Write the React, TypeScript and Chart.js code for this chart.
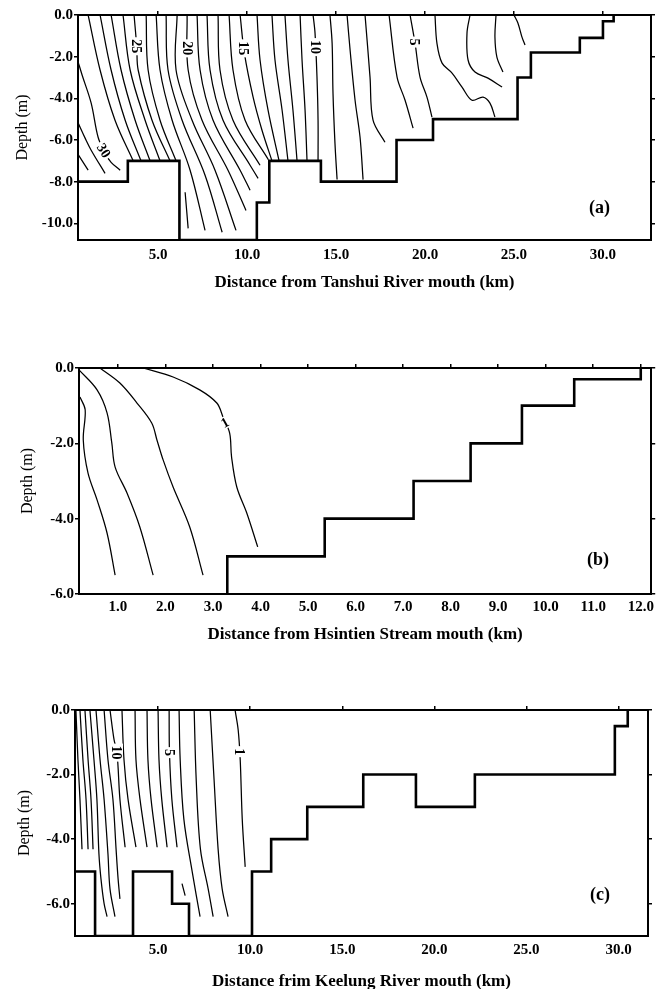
import React, { useEffect, useRef } from "react";
import { Chart, registerables } from "chart.js";
Chart.register(...registerables);

type Pair = [number, number];
type Label = { text: string; x: number; y: number; rot: number };

// ---------- Panel (a) Tanshui River ----------
const tanshuiXTicks = [5, 10, 15, 20, 25, 30];
const tanshuiYTicks = [0, -2, -4, -6, -8, -10];
const tanshuiBedX = [0.5, 3.3, 3.3, 6.2, 6.2, 10.55, 10.55, 11.25, 11.25, 14.15, 14.15, 18.4, 18.4, 20.45, 20.45, 25.2, 25.2, 25.95, 25.95, 28.7, 28.7, 30.0, 30.0, 30.6, 30.6];
const tanshuiBedY = [-8, -8, -7, -7, -10.8, -10.8, -9, -9, -7, -7, -8, -8, -6, -6, -5, -5, -3, -3, -1.8, -1.8, -1.1, -1.1, -0.3, -0.3, 0];
const tanshuiContours: Pair[][] = [
  [[0.51, -6.7], [1.07, -7.45]],
  [[0.51, -5.19], [0.9, -5.91], [1.24, -6.49], [2.02, -7.6]],
  [[0.51, -2.26], [0.73, -2.88], [1.24, -4.23], [1.63, -5.87], [2.02, -6.63], [2.36, -7.07], [2.87, -7.45]],
  [[1.07, 0], [1.74, -2.64], [2.58, -5.05], [3.6, -7.0]],
  [[1.74, 0], [2.36, -2.64], [3.15, -5.05], [4.04, -7.0]],
  [[2.36, 0], [2.92, -2.64], [3.71, -5.05], [4.55, -7.0]],
  [[3.03, 0], [3.43, -2.64], [4.27, -5.05], [5.11, -7.0]],
  [[3.65, 0], [3.8, -1.5], [3.88, -2.64], [4.66, -5.05], [5.67, -7.0]],
  [[4.33, 0], [4.44, -2.64], [5.11, -5.05], [6.01, -7.0]],
  [[4.89, 0], [5.11, -2.64], [5.79, -5.05], [6.8, -7.45], [7.64, -10.34]],
  [[5.45, 0], [5.56, -2.64], [6.35, -5.05], [7.64, -7.69], [8.6, -10.43]],
  [[6.07, 0], [6.01, -2.64], [6.91, -5.05], [8.2, -7.45], [9.38, -10.34]],
  [[6.63, 0], [6.69, -2.64], [7.47, -5.05], [8.93, -7.45], [9.94, -9.38]],
  [[7.19, 0], [7.36, -2.64], [8.09, -5.05], [9.61, -7.45], [10.17, -8.41]],
  [[7.75, 0], [7.92, -2.64], [8.65, -5.05], [10.17, -7.21], [10.62, -7.84]],
  [[8.37, 0], [8.48, -2.64], [9.21, -5.05], [10.73, -7.21]],
  [[8.99, 0], [9.21, -2.64], [9.89, -5.05], [11.2, -6.95]],
  [[9.61, 0], [9.85, -1.83], [10.34, -3.94], [10.84, -5.53], [11.4, -7.0]],
  [[10.56, 0], [10.73, -2.16], [11.18, -4.57], [11.8, -7.0]],
  [[11.4, 0], [11.57, -2.16], [11.97, -4.57], [12.3, -7.0]],
  [[12.13, 0], [12.3, -2.16], [12.58, -4.57], [12.81, -7.0]],
  [[12.98, 0], [13.09, -2.16], [13.26, -4.57], [13.37, -7.0]],
  [[13.71, 0], [13.82, -0.87], [13.93, -2.98], [13.99, -5.05], [13.99, -7.0]],
  [[14.66, 0], [14.78, -1.35], [14.83, -3.75], [14.94, -6.15], [15.06, -7.9]],
  [[15.62, 0], [15.79, -1.68], [16.07, -4.09], [16.35, -5.87], [16.52, -7.9]],
  [[16.63, 0], [16.91, -2.98], [17.08, -5.05], [17.75, -6.11]],
  [[17.98, 0], [18.43, -2.98], [18.88, -4.09], [19.33, -5.43]],
  [[19.16, 0], [19.44, -1.35], [19.72, -2.98], [20.11, -3.94], [20.39, -4.9]],
  [[20.56, 0], [20.67, -1.35], [20.96, -2.31], [21.52, -2.79], [22.08, -3.46], [22.64, -4.09], [23.26, -3.94], [23.65, -4.23], [23.93, -4.9]],
  [[22.53, 0], [22.36, -0.87], [22.42, -2.16], [22.81, -2.74], [23.54, -3.03], [24.33, -3.46]],
  [[23.99, 0], [23.93, -1.06], [24.04, -2.02], [24.38, -2.74]],
  [[25.0, 0], [25.22, -0.38], [25.45, -1.06], [25.62, -1.44]],
  [[6.52, -8.51], [6.69, -10.24]],
];
const tanshuiLabels: Label[] = [
  { text: "30", x: 1.95, y: -6.5, rot: 1.0 },
  { text: "25", x: 3.78, y: -1.5, rot: Math.PI / 2 },
  { text: "20", x: 6.66, y: -1.6, rot: Math.PI / 2 },
  { text: "15", x: 9.82, y: -1.6, rot: Math.PI / 2 },
  { text: "10", x: 13.87, y: -1.54, rot: Math.PI / 2 },
  { text: "5", x: 19.42, y: -1.3, rot: Math.PI / 2 },
];

// ---------- Panel (b) Hsintien Stream ----------
const hsintienXTicks = [1, 2, 3, 4, 5, 6, 7, 8, 9, 10, 11, 12];
const hsintienYTicks = [0, -2, -4, -6];
const hsintienBedX = [3.3, 3.3, 5.35, 5.35, 7.22, 7.22, 8.42, 8.42, 9.5, 9.5, 10.6, 10.6, 12.0, 12.0];
const hsintienBedY = [-6, -5, -5, -4, -4, -3, -3, -2, -2, -1, -1, -0.3, -0.3, 0];
const hsintienContours: Pair[][] = [
  [[1.53, 0], [2.16, -0.24], [2.72, -0.58], [3.08, -0.93], [3.21, -1.3], [3.35, -1.73], [3.39, -2.36], [3.5, -3.16], [3.71, -3.85], [3.94, -4.75]],
  [[0.62, 0], [1.04, -0.4], [1.4, -0.93], [1.71, -1.46], [1.82, -1.91], [1.95, -2.44], [2.16, -3.16], [2.51, -4.22], [2.79, -5.5]],
  [[0.18, -0.05], [0.56, -0.58], [0.77, -1.19], [0.87, -1.99], [0.94, -2.63], [1.19, -3.32], [1.46, -4.22], [1.74, -5.5]],
  [[0.2, -0.77], [0.31, -1.11], [0.27, -1.91], [0.37, -2.79], [0.56, -3.5], [0.77, -4.38], [0.94, -5.5]],
];
const hsintienLabels: Label[] = [{ text: "1", x: 3.25, y: -1.45, rot: -0.5 }];

// ---------- Panel (c) Keelung River ----------
const keelungXTicks = [5, 10, 15, 20, 25, 30];
const keelungYTicks = [0, -2, -4, -6];
const keelungBedX = [0.49, 1.58, 1.58, 3.64, 3.64, 5.76, 5.76, 6.68, 6.68, 10.1, 10.1, 11.14, 11.14, 13.1, 13.1, 16.14, 16.14, 19.0, 19.0, 22.2, 22.2, 29.8, 29.8, 30.5, 30.5];
const keelungBedY = [-5, -5, -7, -7, -5, -5, -6, -6, -7, -7, -5, -5, -4, -4, -3, -3, -2, -2, -3, -3, -2, -2, -0.5, -0.5, 0];
const keelungContours: Pair[][] = [
  [[0.54, 0], [0.65, -1.54], [0.76, -2.77], [0.87, -4.31]],
  [[0.76, 0], [0.92, -1.54], [1.09, -2.77], [1.2, -4.31]],
  [[1.03, 0], [1.2, -1.54], [1.36, -2.77], [1.47, -4.31]],
  [[1.3, 0], [1.52, -1.54], [1.68, -2.77], [1.79, -4.46], [1.9, -5.23], [2.07, -6.0], [2.23, -6.4]],
  [[1.63, 0], [1.85, -1.54], [2.07, -2.77], [2.28, -4.46], [2.39, -5.54], [2.66, -6.4]],
  [[2.07, 0], [2.28, -1.54], [2.55, -2.77], [2.72, -4.31], [2.83, -5.23], [2.93, -5.85]],
  [[2.39, 0], [2.61, -0.92], [2.77, -1.32], [2.93, -2.77], [3.21, -4.25]],
  [[3.04, 0], [3.15, -1.54], [3.37, -2.77], [3.8, -4.25]],
  [[3.75, 0], [3.8, -1.54], [4.02, -2.77], [4.4, -4.25]],
  [[4.4, 0], [4.45, -1.54], [4.62, -2.77], [4.95, -4.25]],
  [[5.0, 0], [5.05, -1.54], [5.2, -2.77], [5.49, -4.25]],
  [[5.6, 0], [5.62, -1.32], [5.75, -2.77], [6.03, -4.25]],
  [[6.14, 0], [6.2, -1.54], [6.4, -3.38], [6.85, -5.0], [7.28, -6.4]],
  [[6.96, 0], [7.07, -2.15], [7.3, -4.31], [7.72, -5.54], [7.99, -6.4]],
  [[7.83, 0], [8.04, -2.15], [8.26, -4.31], [8.48, -5.54], [8.8, -6.4]],
  [[9.18, 0], [9.35, -0.62], [9.46, -1.54], [9.57, -3.38], [9.73, -4.86]],
  [[6.3, -5.38], [6.47, -5.75]],
];
const keelungLabels: Label[] = [
  { text: "10", x: 2.77, y: -1.32, rot: Math.PI / 2 },
  { text: "5", x: 5.62, y: -1.32, rot: Math.PI / 2 },
  { text: "1", x: 9.42, y: -1.29, rot: Math.PI / 2 },
];

const SERIF = "'Liberation Serif', 'Times New Roman', serif";

interface Spec {
  top: number; height: number;
  left: number; right: number; areaTop: number; areaBottom: number;
  xMin: number; xMax: number; yMin: number; yMax: number;
  xTicks: number[]; yTicks: number[];
  xTitle: string; xAxisH: number; xTitlePad: number; xTickPad: number; yTitlePad: number;
  bedX: number[]; bedY: number[]; contours: Pair[][]; labels: Label[];
  tag: string; tagX: number; tagY: number;
}

const specs: Spec[] = [
  {
    top: 0, height: 305, left: 78, right: 651, areaTop: 15, areaBottom: 240,
    xMin: 0.5, xMax: 32.7, yMin: -10.8, yMax: 0,
    xTicks: tanshuiXTicks, yTicks: tanshuiYTicks,
    xTitle: "Distance from Tanshui River mouth (km)", xAxisH: 60, xTitlePad: 7, xTickPad: 6, yTitlePad: 13,
    bedX: tanshuiBedX, bedY: tanshuiBedY, contours: tanshuiContours, labels: tanshuiLabels,
    tag: "(a)", tagX: 29.8, tagY: -9.3,
  },
  {
    top: 320, height: 330, left: 79, right: 652, areaTop: 48, areaBottom: 274,
    xMin: 0.18, xMax: 12.22, yMin: -6, yMax: 0,
    xTicks: hsintienXTicks, yTicks: hsintienYTicks,
    xTitle: "Distance from Hsintien Stream mouth (km)", xAxisH: 56, xTitlePad: 5, xTickPad: 4, yTitlePad: 18,
    bedX: hsintienBedX, bedY: hsintienBedY, contours: hsintienContours, labels: hsintienLabels,
    tag: "(b)", tagX: 11.1, tagY: -5.1,
  },
  {
    top: 660, height: 340, left: 75, right: 648, areaTop: 50, areaBottom: 276,
    xMin: 0.49, xMax: 31.6, yMin: -7, yMax: 0,
    xTicks: keelungXTicks, yTicks: keelungYTicks,
    xTitle: "Distance frim Keelung River mouth (km)", xAxisH: 60, xTitlePad: 4, xTickPad: 5, yTitlePad: 15,
    bedX: keelungBedX, bedY: keelungBedY, contours: keelungContours, labels: keelungLabels,
    tag: "(c)", tagX: 29.0, tagY: -5.75,
  },
];

function makeConfig(s: Spec): any {
  const fix = (vals: number[]) => (scale: any) => {
    scale.ticks = vals.map((v) => ({ value: v }));
  };
  const fmt = (v: any) => Number(v).toFixed(1);
  const bed = s.bedX.map((x, i) => ({ x, y: s.bedY[i] }));
  const datasets: any[] = s.contours.map((c) => ({
    data: c.map(([x, y]) => ({ x, y })),
    showLine: true,
    borderColor: "#000",
    borderWidth: 1.25,
    pointRadius: 0,
    tension: 0.35,
    fill: false,
  }));
  datasets.push({
    data: bed,
    showLine: true,
    borderColor: "#000",
    borderWidth: 2.6,
    pointRadius: 0,
    tension: 0,
    fill: false,
    borderJoinStyle: "miter",
  });
  const annot = {
    id: "annot",
    afterDatasetsDraw(chart: any) {
      const { ctx } = chart;
      const xs = chart.scales.x;
      const ys = chart.scales.y;
      ctx.save();
      for (const l of s.labels) {
        const px = xs.getPixelForValue(l.x);
        const py = ys.getPixelForValue(l.y);
        ctx.save();
        ctx.translate(px, py);
        ctx.rotate(l.rot);
        ctx.font = `bold 14px ${SERIF}`;
        const w = ctx.measureText(l.text).width;
        ctx.fillStyle = "#fff";
        ctx.fillRect(-w / 2 - 2, -6, w + 4, 12);
        ctx.fillStyle = "#000";
        ctx.textAlign = "center";
        ctx.textBaseline = "middle";
        ctx.fillText(l.text, 0, 1);
        ctx.restore();
      }
      ctx.font = `bold 18px ${SERIF}`;
      ctx.fillStyle = "#000";
      ctx.textAlign = "center";
      ctx.textBaseline = "middle";
      ctx.fillText(s.tag, xs.getPixelForValue(s.tagX), ys.getPixelForValue(s.tagY));
      ctx.restore();
    },
  };
  const tickFont = { family: SERIF, size: 15, weight: "bold" };
  const border = { display: true, color: "#000", width: 2 };
  return {
    type: "scatter",
    data: { datasets },
    plugins: [annot],
    options: {
      responsive: false,
      animation: false,
      events: [],
      layout: { padding: { left: 0, right: 0, top: s.areaTop, bottom: s.height - s.areaBottom - s.xAxisH } },
      plugins: { legend: { display: false }, tooltip: { enabled: false } },
      scales: {
        x: {
          type: "linear", position: "bottom", min: s.xMin, max: s.xMax,
          afterBuildTicks: fix(s.xTicks),
          afterFit: (sc: any) => { sc.height = s.xAxisH; },
          grid: { display: false, drawTicks: false },
          border,
          ticks: { color: "#000", font: tickFont, padding: s.xTickPad, callback: fmt, maxRotation: 0, autoSkip: false },
          title: { display: true, text: s.xTitle, color: "#000", font: { family: SERIF, size: 17, weight: "bold" }, padding: { top: 0, bottom: s.xTitlePad } },
        },
        x2: {
          type: "linear", position: "top", min: s.xMin, max: s.xMax,
          afterBuildTicks: fix(s.xTicks),
          afterFit: (sc: any) => { sc.height = 0; },
          grid: { display: true, drawOnChartArea: false, drawTicks: true, tickLength: 4, color: "#000", lineWidth: 1.5 },
          border,
          ticks: { display: false },
        },
        y: {
          type: "linear", position: "left", min: s.yMin, max: s.yMax,
          afterBuildTicks: fix(s.yTicks),
          afterFit: (sc: any) => { sc.width = s.left; },
          grid: { display: true, drawOnChartArea: false, drawTicks: true, tickLength: 4, color: "#000", lineWidth: 1.5 },
          border,
          ticks: { color: "#000", font: tickFont, padding: 1, callback: fmt, autoSkip: false },
          title: { display: true, text: "Depth (m)", color: "#000", font: { family: SERIF, size: 16, weight: "normal" }, padding: { top: s.yTitlePad, bottom: 0 } },
        },
        y2: {
          type: "linear", position: "right", min: s.yMin, max: s.yMax,
          afterBuildTicks: fix(s.yTicks),
          afterFit: (sc: any) => { sc.width = 658 - s.right; },
          grid: { display: true, drawOnChartArea: false, drawTicks: true, tickLength: 4, color: "#000", lineWidth: 1.5 },
          border,
          ticks: { display: false },
        },
      },
    },
  };
}

function Panel({ spec }: { spec: Spec }) {
  const ref = useRef<HTMLCanvasElement>(null);
  useEffect(() => {
    if (!ref.current) return;
    const chart = new Chart(ref.current, makeConfig(spec));
    return () => chart.destroy();
  }, [spec]);
  return (
    <canvas
      ref={ref}
      width={658}
      height={spec.height}
      style={{ position: "absolute", left: 0, top: spec.top, width: 658, height: spec.height }}
    />
  );
}

export default function App() {
  return (
    <div style={{ position: "fixed", left: 0, top: 0, width: 658, height: 989, overflow: "hidden", background: "#fff" }}>
      {specs.map((s) => (
        <Panel key={s.tag} spec={s} />
      ))}
    </div>
  );
}
